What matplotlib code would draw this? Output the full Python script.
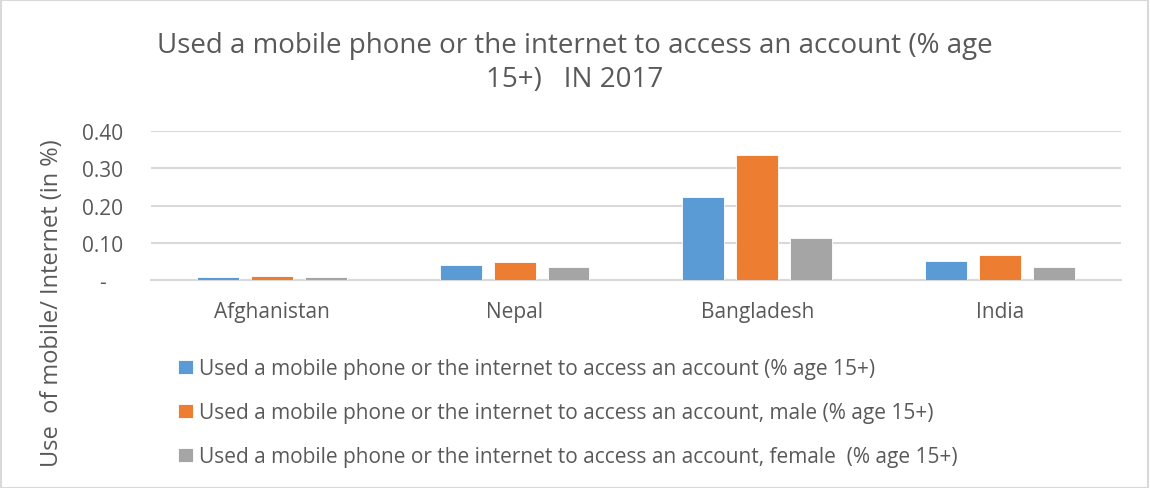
import matplotlib
matplotlib.use("Agg")
import matplotlib.pyplot as plt
import numpy as np
from matplotlib.ticker import FuncFormatter
from matplotlib.patches import Rectangle

# data
countries = ["Afghanistan", "Nepal", "Bangladesh", "India"]
overall = [0.009, 0.040, 0.223, 0.052]
male = [0.010, 0.047, 0.335, 0.067]
female = [0.008, 0.034, 0.114, 0.036]
series_labels = [
    "Used a mobile phone or the internet to access an account (% age 15+)",
    "Used a mobile phone or the internet to access an account, male (% age 15+)",
    "Used a mobile phone or the internet to access an account, female  (% age 15+)",
]
colors = ["#5B9BD5", "#ED7D31", "#A5A5A5"]
text_color = "#595959"
grid_color = "#D9D9D9"

plt.rcParams["font.family"] = ["Open Sans", "DejaVu Sans"]

fig = plt.figure(figsize=(11.5, 4.89), dpi=100)
ax = fig.add_axes([0.131, 0.4254, 0.844, 0.3046])

x = np.arange(len(countries))
width = 0.173
offsets = [-0.222, 0.0, 0.222]
for vals, off, col, lab in zip([overall, male, female], offsets, colors, series_labels):
    ax.bar(x + off, vals, width, color=col, label=lab, edgecolor="white", linewidth=0.6, zorder=3)

ax.set_xlim(-0.5, len(countries) - 0.5)
ax.set_ylim(0, 0.40)
ax.set_yticks([0, 0.1, 0.2, 0.3, 0.4])
ax.yaxis.set_major_formatter(FuncFormatter(lambda v, p: "-   " if abs(v) < 1e-9 else f"{v:.2f}"))
ax.set_xticks(x)
ax.set_xticklabels(countries)
ax.tick_params(axis="both", length=0, labelsize=15, colors=text_color)
ax.tick_params(axis="x", pad=15)
ax.tick_params(axis="y", pad=20)
ax.grid(axis="y", color=grid_color, linewidth=1.5, zorder=0)
for s in ["top", "right", "left"]:
    ax.spines[s].set_visible(False)
ax.spines["bottom"].set_color(grid_color)
ax.spines["bottom"].set_linewidth(1.5)

fig.text(52 / 1150, 1 - 303 / 489, "Use  of mobile/ Internet (in %)", rotation=90,
         ha="center", va="center", fontsize=17, color=text_color)

fig.text(0.5, 1 - 63 / 489, "Used a mobile phone or the internet to access an account (% age\n15+)   IN 2017",
         ha="center", va="center", fontsize=20, color=text_color, linespacing=1.25)

ax.legend(loc="upper left", bbox_to_anchor=(170 / 1150, 1 - 351 / 489), bbox_transform=fig.transFigure,
          frameon=False, fontsize=15, labelcolor=text_color, handlelength=0.7, handleheight=0.7,
          handletextpad=0.3, labelspacing=1.1, borderaxespad=0)

fig.patches.append(Rectangle((0.001, 0.001), 0.997, 0.997, transform=fig.transFigure,
                             fill=False, edgecolor=grid_color, linewidth=1.5))

fig.savefig("out.png", dpi=100)
